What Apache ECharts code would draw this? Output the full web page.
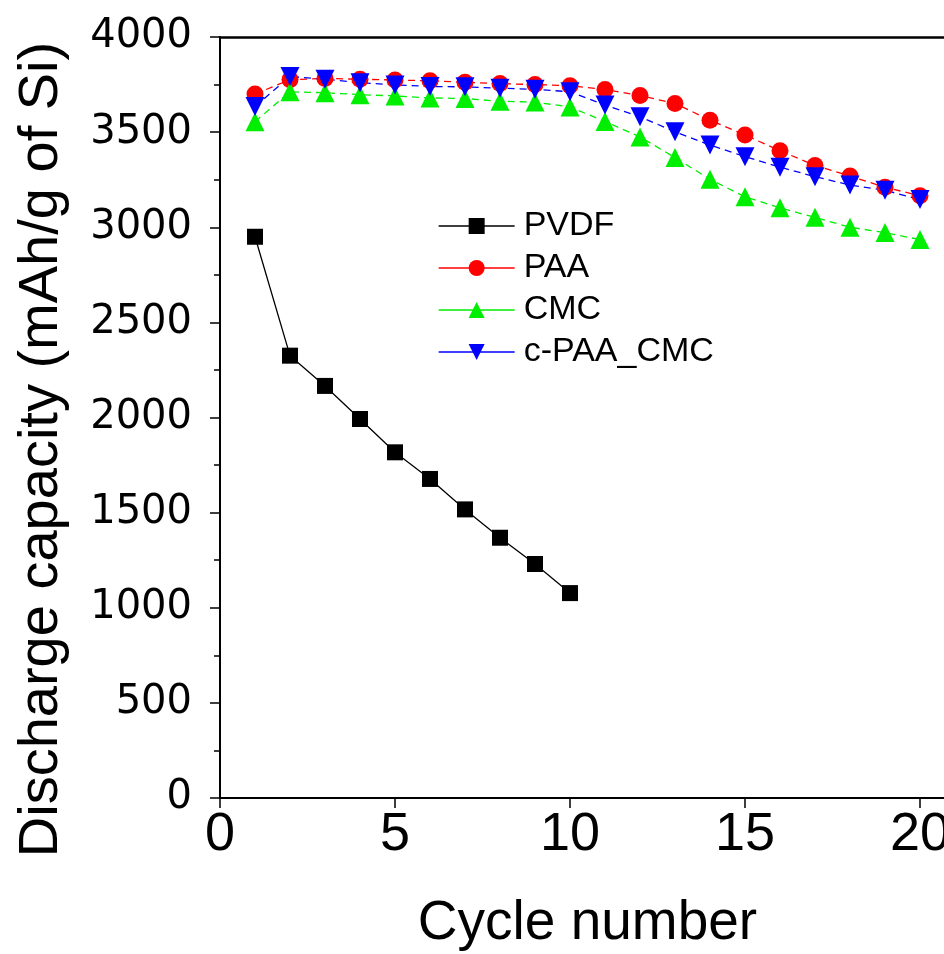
<!DOCTYPE html>
<html>
<head>
<meta charset="utf-8">
<script src="https://cdn.jsdelivr.net/npm/echarts@6/dist/echarts.min.js"></script>
<style>
  html, body { margin: 0; padding: 0; background: #ffffff; }
  #chart { width: 944px; height: 954px; }
</style>
</head>
<body>
<div id="chart"></div>
<script>
// 사이클별 방전 용량 (mAh/g of Si)
const cycles = [1, 2, 3, 4, 5, 6, 7, 8, 9, 10, 11, 12, 13, 14, 15, 16, 17, 18, 19, 20];
const pvdf = [2950, 2325, 2166, 1992, 1817, 1677, 1517, 1368, 1230, 1077];
const paa = [3700, 3776, 3782, 3778, 3774, 3770, 3762, 3755, 3750, 3744, 3724, 3692, 3651, 3563, 3485, 3402, 3325, 3269, 3210, 3166];
const cmc = [3555, 3712, 3707, 3697, 3690, 3680, 3677, 3662, 3658, 3632, 3556, 3475, 3366, 3252, 3160, 3102, 3052, 3000, 2972, 2935];
const cPaaCmc = [3635, 3792, 3778, 3760, 3748, 3740, 3738, 3731, 3725, 3712, 3642, 3581, 3502, 3432, 3371, 3316, 3266, 3222, 3194, 3146];

const xTicks = [0, 5, 10, 15, 20];
const yTicks = [0, 500, 1000, 1500, 2000, 2500, 3000, 3500, 4000];

const FONT = '"Liberation Sans", Arial, sans-serif';

// x, y 쌍으로 변환
function pairs(ys) {
  return ys.map((v, i) => [cycles[i], v]);
}

function makeSeries(name, ys, color, symbol, size, dashed) {
  return {
    name,
    type: "line",
    data: pairs(ys),
    symbol,
    symbolSize: size,
    showSymbol: true,
    animation: false,
    lineStyle: { color, width: 1.3, type: dashed ? [7, 5] : "solid" },
    itemStyle: { color },
    emphasis: { disabled: true },
  };
}

const chart = echarts.init(document.getElementById("chart"), null, { renderer: "canvas" });

chart.setOption({
  backgroundColor: "#ffffff",
  animation: false,
  textStyle: { fontFamily: FONT, color: "#000" },
  // 오른쪽 프레임은 캔버스 밖으로 잘림
  grid: { left: 220, top: 37, width: 735, height: 761, outerBoundsMode: "none", containLabel: false },
  legend: {
    left: 433,
    top: 204,
    orient: "vertical",
    itemWidth: 76,
    itemHeight: 20,
    itemGap: 8,
    lineStyle: { type: "solid", width: 1.3 },
    textStyle: { fontFamily: FONT, fontSize: 34, color: "#000", padding: [0, 0, 0, 4] },
    data: ["PVDF", "PAA", "CMC", "c-PAA_CMC"],
  },
  xAxis: [
    {
      type: "value",
      min: 0,
      max: 21,
      interval: 5,
      position: "bottom",
      name: "Cycle number",
      nameLocation: "middle",
      nameGap: 98,
      nameTextStyle: { fontFamily: FONT, fontSize: 55, color: "#000" },
      axisLine: { show: true, onZero: false, lineStyle: { color: "#000", width: 2 } },
      axisTick: { show: true, length: 10, customValues: xTicks, lineStyle: { color: "#000", width: 1.5 } },
      axisLabel: {
        margin: 10,
        fontFamily: '"Liberation Sans Narrow", "Liberation Sans", Arial, sans-serif',
        fontSize: 54,
        color: "#000",
        customValues: xTicks,
        formatter: (v) => String(v),
      },
      splitLine: { show: false },
    },
    {
      type: "value",
      min: 0,
      max: 21,
      position: "top",
      axisLine: { show: true, onZero: false, lineStyle: { color: "#000", width: 2.5 } },
      axisTick: { show: false },
      axisLabel: { show: false },
      splitLine: { show: false },
    },
  ],
  yAxis: {
    type: "value",
    min: 0,
    max: 4000,
    interval: 500,
    name: "Discharge capacity (mAh/g of Si)",
    nameLocation: "middle",
    nameGap: 150,
    nameTextStyle: { fontFamily: FONT, fontSize: 56, color: "#000", padding: [0, 64, 0, 0] },
    axisLine: { show: true, onZero: false, lineStyle: { color: "#000", width: 2 } },
    axisTick: { show: true, length: 10, lineStyle: { color: "#000", width: 1.5 } },
    minorTick: { show: true, splitNumber: 2, length: 6, lineStyle: { color: "#000", width: 1.5 } },
    axisLabel: {
      margin: 28,
      fontFamily: '"DejaVu Sans", sans-serif',
      fontSize: 40,
      color: "#000",
      formatter: (v) => (yTicks.includes(v) ? String(v) : ""),
    },
    splitLine: { show: false },
    minorSplitLine: { show: false },
  },
  series: [
    makeSeries("PVDF", pvdf, "#000000", "rect", 16, false),
    makeSeries("PAA", paa, "#ff0000", "circle", 17, true),
    makeSeries("CMC", cmc, "#00ee00", "triangle", 19, true),
    { ...makeSeries("c-PAA_CMC", cPaaCmc, "#0000ff", "triangle", 19, true), symbolRotate: 180 },
  ],
});
</script>
</body>
</html>
